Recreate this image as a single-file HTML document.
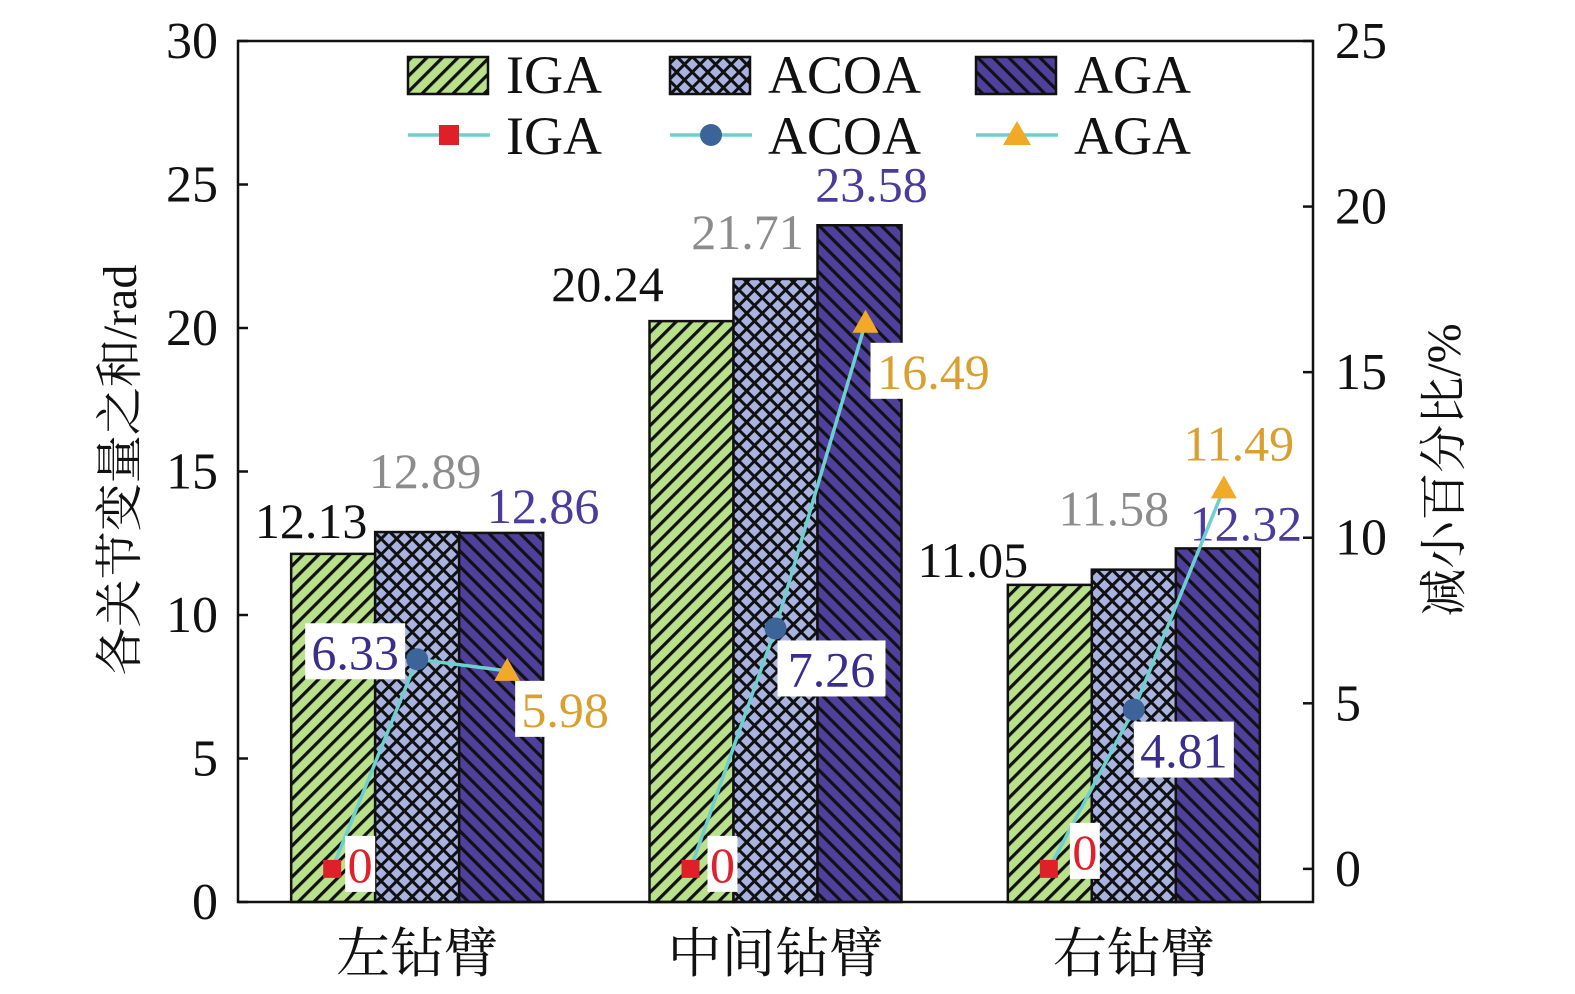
<!DOCTYPE html>
<html><head><meta charset="utf-8"><style>
html,body{margin:0;padding:0;background:#fff;overflow:hidden;width:1575px;height:994px}
svg{display:block}
text{font-family:"Liberation Serif","Noto Serif CJK SC",serif}
</style></head><body>
<svg id="chart" width="1575" height="994" viewBox="0 0 1575 994">
<defs>
<pattern id="pIGA" patternUnits="userSpaceOnUse" width="11" height="11" patternTransform="rotate(45)">
<rect width="11" height="11" fill="#b9e08a"/><rect x="0" y="0" width="3.2" height="11" fill="#111"/></pattern>
<pattern id="pACOA" patternUnits="userSpaceOnUse" width="11" height="11" patternTransform="rotate(45)">
<rect width="11" height="11" fill="#a9b3e0"/><rect x="0" y="0" width="3" height="11" fill="#111"/><rect x="0" y="0" width="11" height="3" fill="#111"/></pattern>
<pattern id="pAGA" patternUnits="userSpaceOnUse" width="11" height="11" patternTransform="rotate(-45)">
<rect width="11" height="11" fill="#4f409e"/><rect x="0" y="0" width="3.2" height="11" fill="#111"/></pattern>
</defs>
<g id="plot"></g>
</svg>
<script>
const categories=["左钻臂","中间钻臂","右钻臂"];
const seriesNames=["IGA","ACOA","AGA"];
const barIGA=[12.13,20.24,11.05];
const barACOA=[12.89,21.71,11.58];
const barAGA=[12.86,23.58,12.32];
const lineIGA=[0,0,0];
const lineACOA=[6.33,7.26,4.81];
const lineAGA=[5.98,16.49,11.49];
const leftTicks=[0,5,10,15,20,25,30];
const rightTicks=[0,5,10,15,20,25];

const NS="http://www.w3.org/2000/svg";
const g=document.getElementById('plot');
const X0=238,X1=1313,Y0=902,Y1=41;
const yL=v=>Y0-(v/30)*(Y0-Y1);
const yR=v=>Y0-((v+1)/26)*(Y0-Y1);
const catW=(X1-X0)/3;
const cx=i=>X0+catW*(i+0.5);
const BW=84;
function mk(tag,attrs,parent){const e=document.createElementNS(NS,tag);for(const k in attrs)e.setAttribute(k,attrs[k]);(parent||g).appendChild(e);return e;}
function txt(x,y,s,size,fill,anchor,parent){const t=mk('text',{x:x,y:y,'font-size':size,fill:fill,'text-anchor':anchor||'middle'},parent);t.textContent=s;return t;}

const bars=[barIGA,barACOA,barAGA];
const pats=["url(#pIGA)","url(#pACOA)","url(#pAGA)"];
const barLblColor=["#111","#8c8c8c","#4a3b9c"];
const barLblOff2=[[[-22,-16],[8,-44],[42,-10]],[[-84,-20],[-28,-30],[12,-24]],[[-77,-8],[-20,-44],[28,-8]]];
for(let s=0;s<3;s++){for(let i=0;i<3;i++){
 const x=cx(i)+(s-1)*BW-BW/2;const v=bars[s][i];
 const r=mk('rect',{x:x,y:yL(v),width:BW,height:Y0-yL(v),fill:pats[s],stroke:'#111','stroke-width':2.5});
 
 
 const o=barLblOff2[i][s];
 const t=txt(cx(i)+(s-1)*BW+o[0],yL(v)+o[1],v.toFixed(2),50,barLblColor[s]);
 
 
}}
mk('rect',{x:X0,y:Y1,width:X1-X0,height:Y0-Y1,fill:'none',stroke:'#111','stroke-width':2.5});
leftTicks.forEach(v=>{mk('line',{x1:X0,x2:X0+10,y1:yL(v),y2:yL(v),stroke:'#111','stroke-width':2.5});
 const t=txt(X0-20,yL(v)+17,String(v),52,'#111','end');});
rightTicks.forEach(v=>{mk('line',{x1:X1-10,x2:X1,y1:yR(v),y2:yR(v),stroke:'#111','stroke-width':2.5});
 const t=txt(X1+22,yR(v)+17,String(v),52,'#111','start');});
categories.forEach((c,i)=>{const t=txt(cx(i),972,c,54,'#111');});
let t=txt(0,0,'各关节变量之和/rad',48,'#111');t.setAttribute('transform','translate(136,470) rotate(-90)');

t=txt(0,0,'减小百分比/%',48,'#111');t.setAttribute('transform','translate(1460,470) rotate(-90)');


const lines=[lineIGA,lineACOA,lineAGA];
const px=[-85,0,90];
for(let i=0;i<3;i++){
 const pts=lines.map((L,s)=>[cx(i)+px[s],yR(L[i])]);
 const pl=mk('polyline',{points:pts.map(p=>p.join(',')).join(' '),fill:'none',stroke:'#6fcfcf','stroke-width':3.5});
 
}
const lblCol=["#e0202a","#3a2d8c","#d9a030"];
const lblOff=[[[28,-5],[-62,-8],[58,38]],[[32,-5],[56,40],[68,48]],[[36,-18],[50,40],[15,-46]]];
const boxW=[[30,100,100],[30,108,126],[30,100,0]];
for(let i=0;i<3;i++){for(let s=0;s<3;s++){
 const x=cx(i)+px[s],y=yR(lines[s][i]);const o=lblOff[i][s];const lx=x+o[0],ly=y+o[1];
 if(boxW[i][s]>0){const b=mk('rect',{x:lx-boxW[i][s]/2,y:ly-28,width:boxW[i][s],height:56,fill:'#fff'});}
 const tt=txt(lx,ly+18,s===0?'0':lines[s][i].toFixed(2),50,lblCol[s]);
 
}}
for(let i=0;i<3;i++){
 let x=cx(i)+px[0],y=yR(lineIGA[i]);
 let m=mk('rect',{x:x-9,y:y-9,width:18,height:18,fill:'#e02028'});
 x=cx(i)+px[1];y=yR(lineACOA[i]);
 m=mk('circle',{cx:x,cy:y,r:11,fill:'#3d6499'});
 x=cx(i)+px[2];y=yR(lineAGA[i]);
 m=mk('polygon',{points:`${x},${y-13} ${x-13},${y+10} ${x+13},${y+10}`,fill:'#f0aa28'});
}
const lg=mk('g',{});
const lx=[408,670,976];
for(let s=0;s<3;s++){
 const r=mk('rect',{x:lx[s],y:57,width:80,height:37,fill:pats[s],stroke:'#111','stroke-width':2.5},lg);
 
 txt(lx[s]+98,93,seriesNames[s],54,'#111','start',lg);
 mk('line',{x1:lx[s],x2:lx[s]+82,y1:135,y2:135,stroke:'#6fcfcf','stroke-width':3.5},lg);
 const mx=lx[s]+41;
 if(s===0)mk('rect',{x:mx-10,y:125,width:20,height:20,fill:'#e02028'},lg);
 else if(s===1)mk('circle',{cx:mx,cy:135,r:11,fill:'#3d6499'},lg);
 else mk('polygon',{points:`${mx},${121} ${mx-14},${145} ${mx+14},${145}`,fill:'#f0aa28'},lg);
 const t2=txt(lx[s]+98,154,seriesNames[s],54,'#111','start',lg);
 
}
</script>
</body></html>
